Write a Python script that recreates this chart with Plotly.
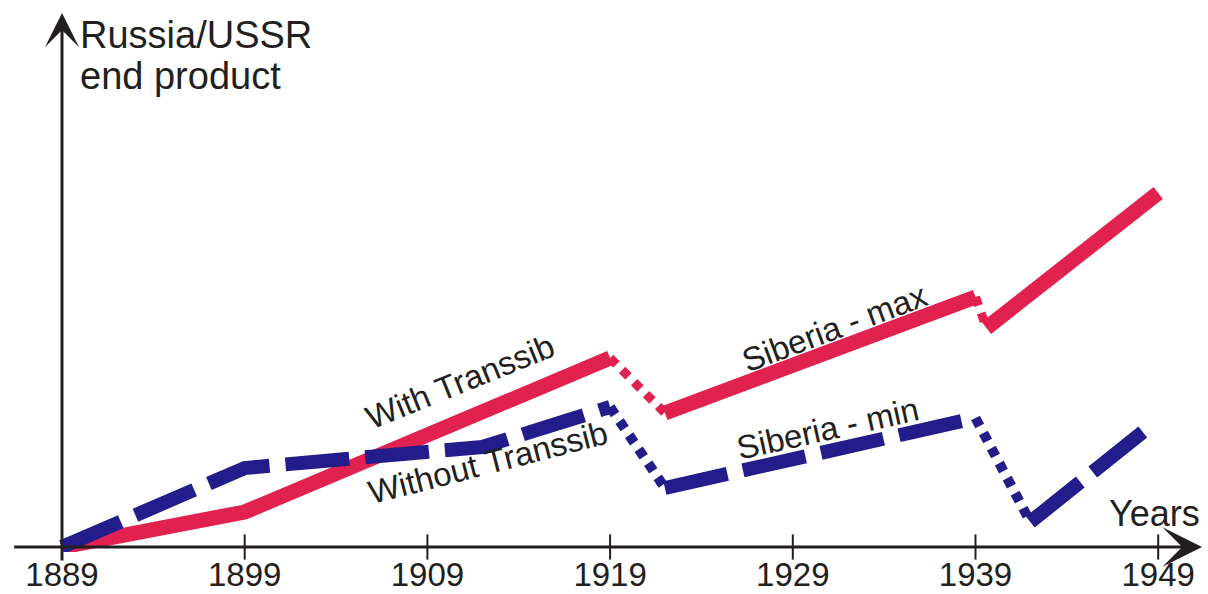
import plotly.graph_objects as go

# ---- data (arbitrary output units) ----
tick_years = [1889, 1899, 1909, 1919, 1929, 1939, 1949]
tick_labels = ["1889", "1899", "1909", "1919", "1929", "1939", "1949"]

red_years = [1889, 1899, 1919, 1922, 1939, 1939.6, 1949]
red_values = [0.0, 3.5, 18.9, 13.4, 25.0, 21.9, 35.4]
red_segment_kind = ["solid", "solid", "dot", "solid", "dot", "solid"]

blue_years = [1889, 1899, 1912, 1919, 1922, 1939, 1942, 1948.3]
blue_values = [0.0, 7.9, 10.0, 14.0, 5.9, 12.9, 2.5, 11.7]
blue_segment_kind = ["dash", "dash", "dash", "dot", "dash", "dot", "dash"]

RED = "#E1214F"
BLUE = "#231C8B"
INK = "#231F20"
FONT = "Liberation Sans, Arial, sans-serif"

styles = {
    ("red", "solid"): dict(color=RED, width=15, dash="solid"),
    ("red", "dot"): dict(color=RED, width=9, dash="9px,8px"),
    ("blue", "dash"): dict(color=BLUE, width=14, dash="64px,16px"),
    ("blue", "dot"): dict(color=BLUE, width=10, dash="9px,8px"),
}


def runs(xs, ys, kinds):
    out = []
    start = 0
    for i in range(1, len(kinds) + 1):
        if i == len(kinds) or kinds[i] != kinds[start]:
            out.append((xs[start:i + 1], ys[start:i + 1], kinds[start]))
            start = i
    return out


fig = go.Figure()

for name, xs, ys, kinds in [("red", red_years, red_values, red_segment_kind),
                            ("blue", blue_years, blue_values, blue_segment_kind)]:
    for sx, sy, k in runs(xs, ys, kinds):
        fig.add_trace(go.Scatter(x=sx, y=sy, mode="lines", line=styles[(name, k)],
                                 cliponaxis=False, hoverinfo="skip", showlegend=False))

# tick marks crossing the x axis
fig.add_trace(go.Scatter(x=tick_years, y=[0] * len(tick_years), mode="markers",
                         marker=dict(symbol="line-ns", size=18,
                                     line=dict(color=INK, width=2)),
                         cliponaxis=False, hoverinfo="skip", showlegend=False))

annotations = [
    # axes with arrow heads
    dict(x=1951.4, y=0, ax=1886.3, ay=0, xref="x", yref="y", axref="x", ayref="y",
         text="", showarrow=True, arrowhead=3, arrowsize=2.2, arrowwidth=3, arrowcolor=INK),
    dict(x=1889, y=53.4, ax=1889, ay=-1.5, xref="x", yref="y", axref="x", ayref="y",
         text="", showarrow=True, arrowhead=3, arrowsize=1.9, arrowwidth=3, arrowcolor=INK),
    # axis titles
    dict(x=1889.85, y=51.2, xref="x", yref="y", text="Russia/USSR", showarrow=False,
         xanchor="left", yanchor="middle", font=dict(size=38, color=INK, family=FONT)),
    dict(x=1889.85, y=47.1, xref="x", yref="y", text="end product", showarrow=False,
         xanchor="left", yanchor="middle", font=dict(size=38, color=INK, family=FONT)),
    dict(x=1946.2, y=3.4, xref="x", yref="y", text="Years", showarrow=False,
         xanchor="left", yanchor="middle", font=dict(size=36, color=INK, family=FONT)),
    # line labels
    dict(x=1910.8, y=16.6, xref="x", yref="y", text="With Transsib", showarrow=False,
         textangle=-22, font=dict(size=33, color=INK, family=FONT)),
    dict(x=1912.3, y=8.5, xref="x", yref="y", text="Without Transsib", showarrow=False,
         textangle=-14.5, font=dict(size=33, color=INK, family=FONT)),
    dict(x=1931.3, y=22.0, xref="x", yref="y", text="Siberia - max", showarrow=False,
         textangle=-20.5, font=dict(size=33, color=INK, family=FONT)),
    dict(x=1930.9, y=11.9, xref="x", yref="y", text="Siberia - min", showarrow=False,
         textangle=-12.5, font=dict(size=33, color=INK, family=FONT)),
]

PX_PER_YEAR = 18.27
PX_PER_UNIT = 10.0
W, H = 1208, 594
MB = 42
x0 = 1889 - 62 / PX_PER_YEAR
x1 = 1889 + (W - 62) / PX_PER_YEAR
y1 = 547 / PX_PER_UNIT
y0 = -((H - MB) - 547) / PX_PER_UNIT

fig.update_layout(
    width=W, height=H,
    margin=dict(l=0, r=0, t=0, b=MB, autoexpand=False),
    paper_bgcolor="white", plot_bgcolor="white",
    showlegend=False,
    annotations=annotations,
    xaxis=dict(range=[x0, x1], tickvals=tick_years, ticktext=tick_labels,
               showgrid=False, zeroline=False, showline=False, ticks="",
               automargin=False,
               tickfont=dict(size=33, color=INK, family=FONT), fixedrange=True),
    yaxis=dict(range=[y0, y1], showgrid=False, zeroline=False, showline=False,
               showticklabels=False, ticks="", automargin=False, fixedrange=True),
)

fig.write_html(
    "out.html",
    config={"displayModeBar": False},
    post_script="document.body.style.margin='0';document.body.style.overflow='hidden';",
)
